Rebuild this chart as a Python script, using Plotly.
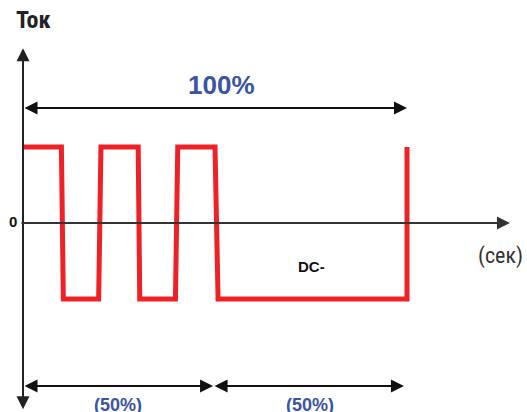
import plotly.graph_objects as go

# Waveform: time in % of period, current level (+1 high / -1 low)
t_points = [0, 10, 10.5, 19.7, 20.3, 30, 30.4, 39.7, 40.3, 50, 50.8, 100, 100]
levels = [1, 1, -1, -1, 1, 1, -1, -1, 1, 1, -1, -1, 1]

# Span arrows
full_span = [0, 100]
half_spans = [[0, 49.5], [49.5, 99.2]]
half_labels = ["(50%)", "(50%)"]
full_label = "100%"
y_label = "Ток"
x_label = "(сек)"
dc_label = "DC-"
zero_label = "0"

RED = "#EE2226"
BLUE = "#3A53A4"
BLACK = "#111111"
AXIS = "#333333"

fig = go.Figure()
fig.add_trace(go.Scatter(x=t_points, y=levels, mode="lines",
                         line=dict(color=RED, width=5), hoverinfo="skip",
                         showlegend=False))

ann = []

def arrow(x0, y0, x1, y1, both=False, color=BLACK, width=2, size=1.3):
    d = dict(x=x1, y=y1, ax=x0, ay=y0, xref="x", yref="y", axref="x", ayref="y",
             text="", showarrow=True, arrowhead=2, arrowsize=size, arrowwidth=width,
             arrowcolor=color, standoff=0, startstandoff=0)
    if both:
        d.update(arrowside="end+start", startarrowhead=2, startarrowsize=size)
    ann.append(d)

# y axis (double arrow)
arrow(0, -2.47, 0, 2.30, both=True, color="#222222")
# x axis
arrow(-0.8, 0, 126.8, 0, color=AXIS)
# 100% span
arrow(full_span[0], 1.513, full_span[1], 1.513, both=True)
# 50% spans
for s in half_spans:
    arrow(s[0], -2.145, s[1], -2.145, both=True)

def label(x, y, text, size, color, bold=True, family="Arial, Liberation Sans, sans-serif",
          xanchor="center"):
    ann.append(dict(x=x, y=y, xref="x", yref="y", text=f"<b>{text}</b>" if bold else text,
                    showarrow=False, font=dict(size=size, color=color, family=family),
                    xanchor=xanchor, yanchor="middle"))

NARROW = "Liberation Sans Narrow, Arial Narrow, Roboto Condensed, Arial, sans-serif"
label(2.86, 2.671, y_label, 24, "#222222", family=NARROW)
label(-2.6, 0.026, zero_label, 15, "#111111")
label(51.7, 1.822, full_label, 26, BLUE)
label(130.6, -0.434, x_label, 22, "#333333", bold=False, family=NARROW, xanchor="right")
label(75, -0.566, dc_label, 15, "#111111")
label(24.7, -2.395, half_labels[0], 18, BLUE)
label(74.7, -2.395, half_labels[1], 18, BLUE)

fig.update_layout(
    width=527, height=412,
    margin=dict(l=0, r=0, t=0, b=0),
    paper_bgcolor="white", plot_bgcolor="white",
    xaxis=dict(range=[-5.99, 131.25], visible=False, fixedrange=True),
    yaxis=dict(range=[-2.487, 2.934], visible=False, fixedrange=True),
    annotations=ann,
    showlegend=False,
)

fig.write_html(
    "out.html",
    config={"displayModeBar": False},
    post_script="document.body.style.margin='0';document.body.style.overflow='hidden';",
)
